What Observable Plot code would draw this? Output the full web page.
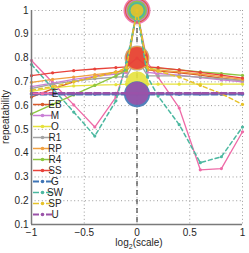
<!DOCTYPE html>
<html><head><meta charset="utf-8">
<script src="https://cdn.jsdelivr.net/npm/d3@7"></script>
<script src="https://cdn.jsdelivr.net/npm/@observablehq/plot@0.6"></script>
<style>
body{margin:0;background:#fff;}
#chart svg{font-family:"Liberation Sans",Arial,sans-serif;overflow:visible;}
</style>
</head><body><div id="chart"></div>
<script>
// x positions: log2(scale)
const xs = [-1, -0.8, -0.6, -0.4, -0.2, -0.1, 0, 0.1, 0.2, 0.4, 0.6, 0.8, 1];
const names = ["E","EB","M","O","R1","RP","R4","SS","G","SW","SP","U"];
// repeatability per series
const E  = [0.79, 0.697, 0.603, 0.51, 0.636, 0.77, 1, 0.78, 0.72, 0.59, 0.33, 0.335, 0.49];
const EB = [0.636, 0.67, 0.70, 0.722, 0.742, 0.748, 1, 0.75, 0.745, 0.738, 0.728, 0.715, 0.705];
const M  = [0.68, 0.695, 0.71, 0.723, 0.733, 0.738, 1, 0.74, 0.735, 0.728, 0.718, 0.708, 0.70];
const O  = [0.66, 0.675, 0.683, 0.686, 0.688, 0.69, 0.695, 0.69, 0.69, 0.69, 0.69, 0.69, 0.69];
const R1 = [0.672, 0.69, 0.703, 0.713, 0.72, 0.722, 0.8, 0.725, 0.725, 0.725, 0.72, 0.713, 0.705];
const RP = [0.698, 0.71, 0.72, 0.73, 0.74, 0.745, 0.8, 0.75, 0.75, 0.742, 0.733, 0.722, 0.71];
const R4 = [0.565, 0.605, 0.645, 0.685, 0.725, 0.75, 1, 0.76, 0.758, 0.75, 0.742, 0.735, 0.727];
const SS = [0.726, 0.738, 0.747, 0.754, 0.76, 0.763, 0.8, 0.763, 0.76, 0.75, 0.74, 0.728, 0.716];
const G  = [0.648, 0.648, 0.648, 0.648, 0.648, 0.648, 0.648, 0.648, 0.648, 0.648, 0.648, 0.648, 0.648];
const SW = [0.773, 0.673, 0.573, 0.472, 0.62, 0.78, 1, 0.72, 0.64, 0.52, 0.36, 0.385, 0.51];
const SP = [0.665, 0.68, 0.70, 0.72, 0.74, 0.76, 1, 0.76, 0.745, 0.72, 0.685, 0.65, 0.605];
const U  = [0.652, 0.652, 0.652, 0.652, 0.652, 0.652, 0.652, 0.652, 0.652, 0.652, 0.652, 0.652, 0.652];
const values = {E, EB, M, O, R1, RP, R4, SS, G, SW, SP, U};

const xTicks = [-1, -0.5, 0, 0.5, 1];
const yTicks = [0.1, 0.2, 0.3, 0.4, 0.5, 0.6, 0.7, 0.8, 0.9, 1];
const xDomain = [-1, 1];
const yDomain = [0.1, 1];
const refX = [0];

// styles
const colors = ["#ee6aa7","#d95a2b","#c97fd6","#e6e23c","#a3a3a3","#f0a040","#8cc63f","#e8423a","#3f74b5","#4bb8a0","#e6c229","#9a52a8"];
const dashes = [null,null,null,null,null,null,null,null,"6,3","4,3","4,3","6,3"];
const widths = [1.3,1.3,1.3,1.3,1.3,1.3,1.3,1.3,2.6,1.5,1.5,2.6];
const bigR   = [13.5,12,11,11.5,12.5,12,10,11,13,8.5,6.5,11.5];

const marks = [
  Plot.gridY(yTicks, {stroke:"#9a9a9a", strokeOpacity:1, strokeDasharray:"1,2.6"}),
  Plot.gridX(xTicks, {stroke:"#9a9a9a", strokeOpacity:1, strokeDasharray:"1,2.6"}),
  Plot.ruleX(refX, {stroke:"#222", strokeWidth:1, strokeDasharray:"5,4"})
];
names.forEach((n, i) => {
  const data = xs.map((x, j) => ({x, y: values[n][j]}));
  marks.push(Plot.line(data, {x:"x", y:"y", stroke: colors[i], strokeWidth: widths[i], strokeDasharray: dashes[i] || undefined}));
  marks.push(Plot.dot(data, {x:"x", y:"y", r:1.6, fill: colors[i]}));
  marks.push(Plot.dot(data.filter(d => d.x === 0), {x:"x", y:"y", r: bigR[i], fill: colors[i], fillOpacity:0.9}));
});
marks.push(Plot.ruleX([xDomain[0]], {stroke:"#7a7a7a", strokeWidth:1.5}));
marks.push(Plot.ruleY([yDomain[0]], {stroke:"#7a7a7a", strokeWidth:1.5}));
marks.push(Plot.axisX(xTicks, {tickSize:0, tickPadding:4, fontSize:10, label:null, tickFormat: d => String(d).replace("-", "\u2212"), fill:"#262626"}));
marks.push(Plot.axisY(yTicks, {tickSize:0, tickPadding:3, fontSize:10, label:null, tickFormat: d => d === 1 ? "1" : d.toFixed(1), fill:"#262626"}));

const chart = Plot.plot({
  width: 249, height: 253,
  marginLeft: 31, marginRight: 7, marginTop: 10, marginBottom: 29,
  x: {domain: xDomain},
  y: {domain: yDomain},
  style: {fontFamily: "Liberation Sans, Arial, sans-serif", background: "transparent"},
  marks
});
document.getElementById("chart").appendChild(chart);

const svg = d3.select(chart);
// axis labels
const xl = svg.append("text").attr("x", 139).attr("y", 246).attr("text-anchor","middle")
  .attr("font-size", 10).attr("fill", "#262626");
xl.append("tspan").text("log");
xl.append("tspan").attr("font-size", 7).attr("dy", 2.5).text("2");
xl.append("tspan").attr("dy", -2.5).text("(scale)");
svg.append("text").attr("transform","translate(9,117) rotate(-90)").attr("text-anchor","middle")
  .attr("font-size", 10).attr("fill", "#262626").text("repeatability");

// legend
const lg = svg.append("g");
names.forEach((n, i) => {
  const yy = 93.5 + i * 11;
  const g = lg.append("g");
  if (dashes[i]) {
    g.append("line").attr("x1",33).attr("x2",39).attr("y1",yy).attr("y2",yy).attr("stroke",colors[i]).attr("stroke-width",Math.min(widths[i],2));
    g.append("line").attr("x1",46).attr("x2",52).attr("y1",yy).attr("y2",yy).attr("stroke",colors[i]).attr("stroke-width",Math.min(widths[i],2));
  } else {
    g.append("line").attr("x1",33).attr("x2",52).attr("y1",yy).attr("y2",yy).attr("stroke",colors[i]).attr("stroke-width",1.5);
  }
  g.append("circle").attr("cx",42.5).attr("cy",yy).attr("r",1.8).attr("fill",colors[i]);
  g.append("text").attr("x",55).attr("y",yy).attr("dy","0.36em").attr("font-size",10).attr("fill","#262626").text(n);
});
</script>
</body></html>
